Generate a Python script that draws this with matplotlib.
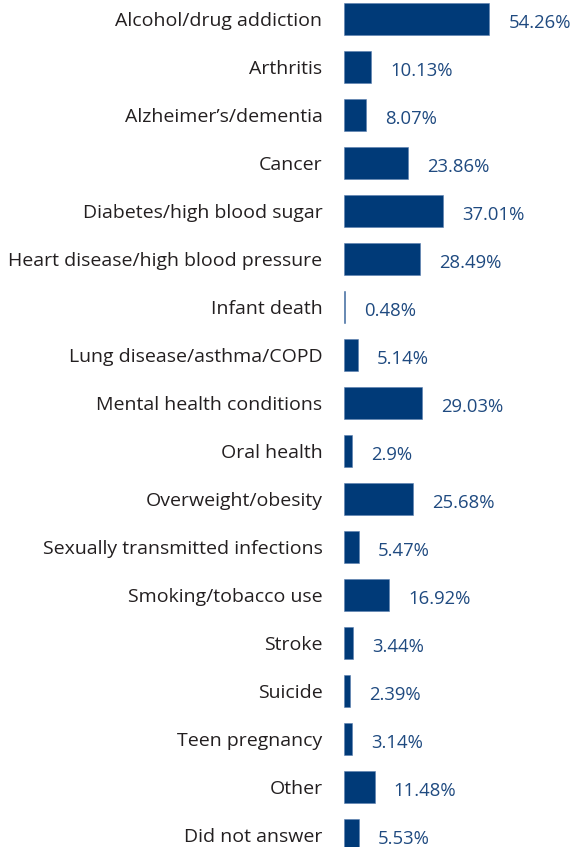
import matplotlib
matplotlib.use("Agg")
import matplotlib.pyplot as plt

categories = ["Alcohol/drug addiction", "Arthritis", "Alzheimer\u2019s/dementia", "Cancer",
              "Diabetes/high blood sugar", "Heart disease/high blood pressure", "Infant death",
              "Lung disease/asthma/COPD", "Mental health conditions", "Oral health",
              "Overweight/obesity", "Sexually transmitted infections", "Smoking/tobacco use",
              "Stroke", "Suicide", "Teen pregnancy", "Other", "Did not answer"]
values = [54.26, 10.13, 8.07, 23.86, 37.01, 28.49, 0.48, 5.14, 29.03, 2.9,
          25.68, 5.47, 16.92, 3.44, 2.39, 3.14, 11.48, 5.53]
value_labels = ["54.26%", "10.13%", "8.07%", "23.86%", "37.01%", "28.49%", "0.48%", "5.14%",
                "29.03%", "2.9%", "25.68%", "5.47%", "16.92%", "3.44%", "2.39%", "3.14%",
                "11.48%", "5.53%"]

plt.rcParams['font.family'] = ['Open Sans', 'DejaVu Sans']

fig = plt.figure(figsize=(5.71, 8.47), dpi=100)
ax = fig.add_axes([344 / 571, 0, 1 - 344 / 571, 1])

pos = list(range(len(categories)))
ax.barh(pos, values, height=0.667, color='#003a78', edgecolor='#5a7fb0', linewidth=0.4)
ax.set_ylim(17.25, -0.396)
ax.set_xlim(0, 84.7)

ax.set_yticks(pos)
ax.set_yticklabels(categories, fontsize=14, color='#231f20')
ax.tick_params(axis='y', length=0, pad=15.5)
ax.set_xticks([])
for s in ax.spines.values():
    s.set_visible(False)

for p, v, lab in zip(pos, values, value_labels):
    ax.annotate(lab, (v, p), xytext=(13.7, -3.2), textcoords='offset points',
                ha='left', va='center', fontsize=13.3, color='#1f4a80')

fig.savefig('out.png', dpi=100)
